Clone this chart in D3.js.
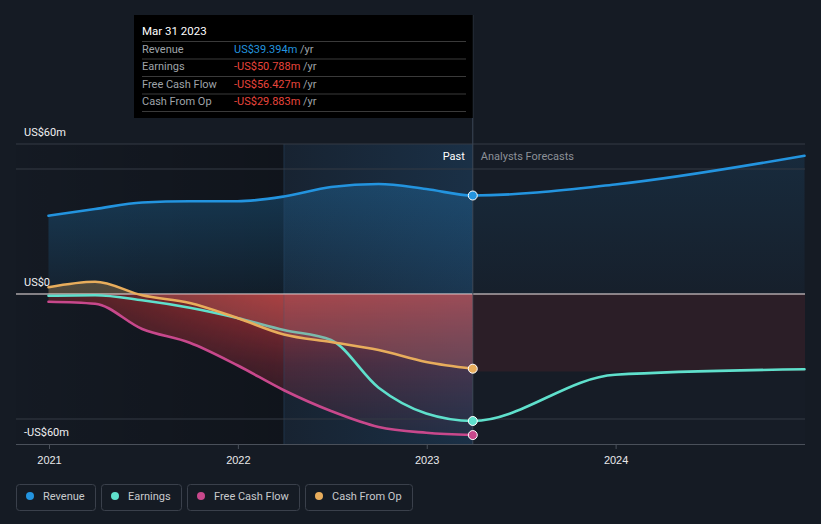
<!DOCTYPE html>
<html><head><meta charset="utf-8">
<script src="https://cdn.jsdelivr.net/npm/d3@7"></script>
<style>html,body{margin:0;padding:0;background:#151b24;} svg{display:block;font-family:Roboto,"Noto Sans",sans-serif;}</style>
</head><body><svg id="c" width="821" height="524"></svg>
<script>
// ---- data (US$ millions) ----
const pastDates = ["2020-12-31","2021-03-31","2021-06-30","2021-09-30","2021-12-31","2022-03-31","2022-06-30","2022-09-30","2022-12-31","2023-03-31"];
const revenuePast  = [31.3, 34.0, 36.6, 37.1, 37.1, 39.0, 42.8, 44.0, 42.0, 39.394];
const earningsPast = [-0.7, -0.5, -2.5, -5.5, -9.6, -14.4, -18.4, -37.5, -47.8, -50.788];
const fcfPast      = [-3.1, -3.9, -14.0, -19.5, -28.5, -38.5, -46.8, -53.2, -55.5, -56.427];
const cfoPast      = [2.7, 4.9, -0.5, -3.6, -9.6, -16.2, -19.2, -22.4, -27.2, -29.883];
const forecastDates = ["2023-12-31","2024-12-31"];
const revenueForecast  = [43.8, 55.3];
const earningsForecast = [-32.3, -30.1];
const yearTicks = ["2021","2022","2023","2024"];
const yTickValues = [60, 0, -60];
const yTickLabels = ["US$60m","US$0","-US$60m"];
const seriesNames = ["Revenue","Earnings","Free Cash Flow","Cash From Op"];
const seriesColors = ["#2394df","#5fe0cc","#c8488c","#e8ad5c"];
const tipDate = "Mar 31 2023";
const tipValues = ["US$39.394m","-US$50.788m","-US$56.427m","-US$29.883m"];
const bandStart = "2022-03-31", bandEnd = "2023-03-31";

const parse = d3.timeParse("%Y-%m-%d");
const svg = d3.select("#c");
const x = d3.scaleTime().domain([parse("2021-01-01"), parse("2025-01-01")]).range([49, 805]);
const y = d3.scaleLinear().domain([-60, 60]).range([444, 144]);
const L = 16, R = 805, T = 144, B = 444;

const pd = pastDates.map(parse), fd = forecastDates.map(parse);
const mk = (ds, vs) => ds.map((d,i)=>({d, v:vs[i]}));
const rev = mk(pd, revenuePast), revF = [rev[rev.length-1]].concat(mk(fd, revenueForecast));
const earn = mk(pd, earningsPast);
const revAll = rev.concat(mk(fd, revenueForecast));
const earnAll = earn.concat(mk(fd, earningsForecast));
const fcf = mk(pd, fcfPast), cfo = mk(pd, cfoPast);
const minPast = pd.map((d,i)=>({d, v: Math.min(0, earningsPast[i], fcfPast[i], cfoPast[i])}));

const curve = d3.curveMonotoneX;
const line = d3.line().x(d=>x(d.d)).y(d=>y(d.v)).curve(curve);
const area0 = d3.area().x(d=>x(d.d)).y0(y(0)).y1(d=>y(d.v)).curve(curve);

const defs = svg.append("defs");
function lg(id, x1,y1,x2,y2, stops){
  const g = defs.append("linearGradient").attr("id",id).attr("gradientUnits","userSpaceOnUse")
    .attr("x1",x1).attr("y1",y1).attr("x2",x2).attr("y2",y2);
  stops.forEach(s=>g.append("stop").attr("offset",s[0]).attr("stop-color",s[1]).attr("stop-opacity",s[2]));
}
const xe = x(pd[pd.length-1]), xb = x(parse(bandStart));
lg("revPast", 0, y(45), 0, y(0), [[0,"#2394df",0.28],[1,"#2394df",0.07]]);
lg("revFc", 0, y(55), 0, y(0), [[0,"#2394df",0.12],[1,"#2394df",0.03]]);
lg("redV", 0, y(0), 0, y(-57), [[0,"#cc3535",0.8],[0.5,"#a03040",0.4],[1,"#802a40",0.12]]);
lg("redH", 48, 0, xb, 0, [[0,"#fff",0.35],[1,"#fff",1]]);
lg("leftDark", L, 0, xb, 0, [[0,"#000",0.08],[1,"#000",0.28]]);
lg("band", xb, 0, xe, 0, [[0,"#2a80c8",0.07],[1,"#2a80c8",0.2]]);
defs.append("mask").attr("id","mH").append("rect").attr("x",0).attr("y",0).attr("width",821).attr("height",524).attr("fill","url(#redH)");
defs.append("clipPath").attr("id","pos").append("rect").attr("x",0).attr("y",0).attr("width",821).attr("height",y(0));
defs.append("clipPath").attr("id","neg").append("rect").attr("x",0).attr("y",y(0)).attr("width",821).attr("height",524);

// background regions
svg.append("rect").attr("x",L).attr("y",T).attr("width",R-L).attr("height",B-T).attr("fill","#161c26");
svg.append("rect").attr("x",L).attr("y",T).attr("width",xb-L).attr("height",B-T).attr("fill","url(#leftDark)");

// fills
svg.append("path").datum(rev).attr("d",area0).attr("fill","url(#revPast)");
svg.append("path").datum(revF).attr("d",area0).attr("fill","url(#revFc)");
svg.append("path").datum(cfo).attr("d",area0).attr("clip-path","url(#pos)").attr("fill","#e8ad5c").attr("fill-opacity",0.28);
svg.append("path").datum(minPast).attr("d",area0).attr("fill","url(#redV)").attr("mask","url(#mH)");
svg.append("rect").attr("x",xe).attr("y",y(0)).attr("width",R-xe).attr("height",y(-31)-y(0)).attr("fill","#c83232").attr("fill-opacity",0.12);

// band highlight
svg.append("rect").attr("x",xb).attr("y",T).attr("width",xe-xb).attr("height",B-T).attr("fill","url(#band)");
svg.append("line").attr("x1",xb).attr("x2",xb).attr("y1",T).attr("y2",B).attr("stroke","#2a4a6a").attr("stroke-opacity",0.5);

// grid lines
[60, 50, -50].forEach(v=>svg.append("line").attr("x1",L).attr("x2",R).attr("y1",y(v)).attr("y2",y(v)).attr("stroke","#343a45").attr("stroke-width",1));
svg.append("line").attr("x1",L).attr("x2",R).attr("y1",y(0)).attr("y2",y(0)).attr("stroke","#f4e8e8").attr("stroke-width",1.2);

// vertical "now" line
svg.append("line").attr("x1",xe).attr("x2",xe).attr("y1",15).attr("y2",B).attr("stroke","#3c4757").attr("stroke-width",1);

// x axis
const xAxis = d3.axisBottom(x).tickValues(yearTicks.map(t=>parse(t+"-01-01"))).tickFormat(d3.timeFormat("%Y")).tickSize(5).tickPadding(7);
const ax = svg.append("g").attr("transform",`translate(0,${B})`).call(xAxis);
ax.select(".domain").remove();
svg.append("line").attr("x1",L).attr("x2",R).attr("y1",B+0.5).attr("y2",B+0.5).attr("stroke","#4a505a");
ax.selectAll(".tick line").attr("stroke","#4a505a");
ax.selectAll(".tick text").attr("fill","#e8e8ea").attr("font-size",11);

// y labels
yTickValues.forEach((v,i)=>svg.append("text").attr("x",24).attr("y",y(v)-8).attr("fill","#f0f0f2").attr("font-size",11).text(yTickLabels[i]));

// lines (earnings & fcf first; cash-from-op area veils earnings where it lies inside it)
const lineW = 2.6;
const drawLine = (data,ci)=>svg.append("path").datum(data).attr("d",line).attr("fill","none")
  .attr("stroke",seriesColors[ci]).attr("stroke-width",lineW).attr("stroke-linecap","round");
drawLine(fcf,2);
drawLine(earnAll,1);
svg.append("path").datum(cfo).attr("d",area0).attr("clip-path","url(#neg)")
  .attr("fill","#b86a6a").attr("fill-opacity",0.32);
drawLine(cfo,3);
drawLine(revAll,0);

// markers
[[revenuePast,0],[earningsPast,1],[fcfPast,2],[cfoPast,3]].forEach(([arr,ci])=>
  svg.append("circle").attr("cx",xe).attr("cy",y(arr[arr.length-1])).attr("r",4.5)
   .attr("fill",seriesColors[ci]).attr("stroke","#fff").attr("stroke-width",1));

// Past / Forecast labels
svg.append("text").attr("x",xe-8).attr("y",160).attr("text-anchor","end").attr("fill","#ffffff").attr("font-size",11).text("Past");
svg.append("text").attr("x",xe+8).attr("y",160).attr("fill","#8c9097").attr("font-size",11).text("Analysts Forecasts");

// tooltip
const tip = svg.append("g");
tip.append("rect").attr("x",134).attr("y",15).attr("width",xe-134).attr("height",103).attr("fill","#000");
tip.append("text").attr("x",142).attr("y",35).attr("fill","#fff").attr("font-size",11.5).text(tipDate);
[41.5,59,76.5,94,111.5].forEach(yy=>tip.append("line").attr("x1",142).attr("x2",466).attr("y1",yy).attr("y2",yy).attr("stroke","#3a3a3a"));
const rowsY = [52.5,70,87.5,105];
seriesNames.forEach((n,i)=>{
  tip.append("text").attr("x",142).attr("y",rowsY[i]).attr("fill","#9fa3a9").attr("font-size",11).text(n);
  const t = tip.append("text").attr("x",234).attr("y",rowsY[i]).attr("font-size",11);
  t.append("tspan").attr("fill", tipValues[i].startsWith("-") ? "#e8453c" : "#2394df").text(tipValues[i]);
  t.append("tspan").attr("fill","#9fa3a9").text(" /yr");
});

// legend
let lx = 16;
seriesNames.forEach((n,i)=>{
  const g = svg.append("g");
  const txt = g.append("text").attr("x",lx+27).attr("y",500).attr("fill","#c8cacd").attr("font-size",11).text(n);
  const w = txt.node().getComputedTextLength();
  const bw = Math.round(w + 37);
  g.insert("rect","text").attr("x",lx+0.5).attr("y",484.5).attr("width",bw).attr("height",26).attr("rx",3)
    .attr("fill","none").attr("stroke","#3a404b");
  g.append("circle").attr("cx",lx+14).attr("cy",496).attr("r",4).attr("fill",seriesColors[i]);
  lx += bw + 6;
});
</script></body></html>
